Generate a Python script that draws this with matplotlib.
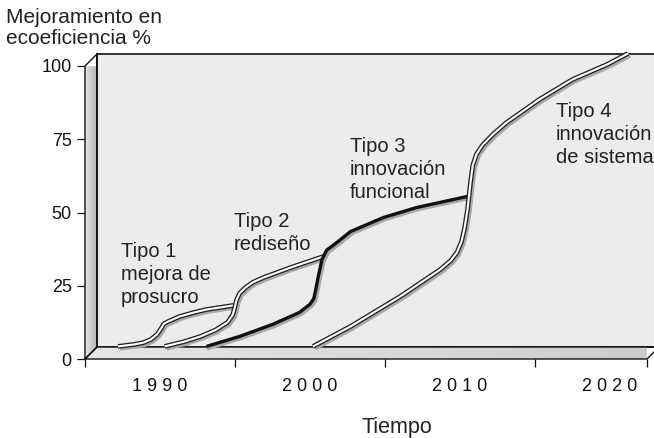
import numpy as np
import matplotlib.pyplot as plt
from matplotlib.patches import Polygon, Rectangle
from matplotlib.transforms import ScaledTranslation

plt.rcParams['font.family'] = ['Liberation Sans', 'DejaVu Sans']

# data (years, % improvement) on the back wall
t1_x = [1986.4, 1987.5, 1988.1, 1988.6, 1989.0, 1989.27, 1989.45, 1989.7, 1990.5,
        1991.4, 1992.3, 1994.1]
t1_y = [0.2, 0.9, 1.5, 2.6, 4.3, 6.3, 7.9, 8.6, 10.4, 11.7, 12.8, 14.2]

t2_x = [1989.5, 1990.8, 1991.9, 1992.9, 1993.7, 1994.05, 1994.2, 1994.3, 1994.5,
        1994.9, 1995.4, 1996.1, 1997.9, 2000.1]
t2_y = [0.2, 1.8, 3.6, 5.8, 8.4, 11.0, 13.8, 16.0, 18.3, 20.3, 22.1, 23.7, 27.1, 30.9]

t3_x = [1992.3, 1994.5, 1996.7, 1998.5, 1999.2, 1999.45, 1999.6, 1999.75, 2000.0,
        2000.3, 2001.0, 2001.9, 2004.1, 2006.3, 2009.7]
t3_y = [0.2, 3.6, 7.7, 11.8, 14.6, 16.5, 20.0, 24.0, 29.9, 33.0, 35.7, 39.4, 44.2,
        47.6, 51.4]

t4_x = [1999.4, 2001.9, 2005.2, 2007.9, 2008.6, 2009.0, 2009.3, 2009.5, 2009.7,
        2009.9, 2010.05, 2010.3, 2010.7, 2011.4, 2012.3, 2014.5, 2016.7, 2019.0,
        2020.4]
t4_y = [0.2, 7.0, 17.2, 26.5, 29.6, 32.3, 36.0, 40.5, 46.9, 56.1, 62.0, 65.8, 68.9,
        72.6, 76.6, 84.5, 91.3, 96.4, 100.2]

y_ticks = [0, 25, 50, 75, 100]
decade_labels = ['1 9 9 0', '2 0 0 0', '2 0 1 0', '2 0 2 0']
decade_pos = [1990, 2000, 2010, 2020]

W, H = 654, 438
fig = plt.figure(figsize=(W / 100, H / 100), dpi=100)
ax = fig.add_axes([85 / W, 79 / H, 562 / W, 293 / H])
x0, x1 = 1985, 1985 + 562 / 15
ax.set_xlim(x0, x1)
ax.set_ylim(0, 100)
ax.patch.set_visible(False)
for s in ax.spines.values():
    s.set_visible(False)

# depth offset of the box (12 px right, 12 px up)
dx = 12 * (x1 - x0) / 562
dy = 12 * 100 / 293
back = ax.transData + ScaledTranslation(0.12, 0.12, fig.dpi_scale_trans)


def gradient(poly, c0, c1, z=1):
    g = np.linspace(0, 1, 64)[None, :]
    a = np.array(plt.matplotlib.colors.to_rgb(c0))
    b = np.array(plt.matplotlib.colors.to_rgb(c1))
    img = a + (b - a) * g[..., None]
    xs, ys = zip(*poly.get_xy())
    im = ax.imshow(img, extent=[min(xs), max(xs), min(ys), max(ys)],
                   aspect='auto', origin='lower', zorder=z, clip_on=True)
    im.set_clip_path(poly)


# back wall
wall = Rectangle((x0, 0), 45, 100, transform=back, facecolor='#ececec',
                 edgecolor='#111111', lw=1.2, zorder=0, clip_on=False)
ax.add_patch(wall)
right = Polygon([(x1 - 0.5 + dx, dy), (x1 + 2 * dx, dy), (x1 + 2 * dx, 100 + dy),
                 (x1 - 0.5 + dx, 100 + dy)], closed=True, facecolor='none',
                edgecolor='none', clip_on=False)
ax.add_patch(right)
gradient(right, '#ececec', '#c4c4c4', z=0.5)

# left wall
lw_poly = Polygon([(x0, 0), (x0, 100), (x0 + dx, 100 + dy), (x0 + dx, dy)],
                  closed=True, facecolor='none', edgecolor='#111111', lw=1.0,
                  zorder=3, clip_on=False)
ax.add_patch(lw_poly)
gradient(lw_poly, '#e2e2e2', '#b8b8b8', z=2)
ax.plot([x0 + dx, x0 + dx], [dy, 100 + dy], color='#111111', lw=1.2, zorder=3,
        clip_on=False)

# floor
fl_poly = Polygon([(x0, 0), (x1, 0), (x1 + dx, dy), (x0 + dx, dy)], closed=True,
                  facecolor='none', edgecolor='#111111', lw=1.0, zorder=3,
                  clip_on=False)
ax.add_patch(fl_poly)
gradient(fl_poly, '#e6e6e6', '#cdcdcd', z=2)

# curves on the back wall
shadow = back + ScaledTranslation(0.02, -0.02, fig.dpi_scale_trans)


def double_line(x, y, z):
    ax.plot(x, y, transform=shadow, color='#a8a8a8', lw=3.2, zorder=z,
            solid_capstyle='butt', solid_joinstyle='round', clip_on=False)
    ax.plot(x, y, transform=back, color='#222222', lw=3.4, zorder=z + 0.1,
            solid_capstyle='butt', solid_joinstyle='round', clip_on=False)
    ax.plot(x, y, transform=back, color='white', lw=1.5, zorder=z + 0.2,
            solid_capstyle='butt', solid_joinstyle='round', clip_on=False)


double_line(t1_x, t1_y, 4)
double_line(t2_x, t2_y, 5)
ax.plot(t3_x, t3_y, transform=shadow, color='#a8a8a8', lw=2.4, zorder=6,
        solid_joinstyle='round', clip_on=False)
ax.plot(t3_x, t3_y, transform=back, color='#111111', lw=2.4, zorder=6.1,
        solid_capstyle='butt', solid_joinstyle='round', clip_on=False)
double_line(t4_x, t4_y, 7)

# ticks
ax.set_yticks(y_ticks)
ax.set_yticklabels([str(v) for v in y_ticks])
ax.tick_params(axis='y', direction='out', length=6, width=0.9, pad=3.5,
               labelsize=13, colors='#111111')
ax.set_xticks([1985, 1995, 2005, 2015, x1])
ax.set_xticklabels([])
ax.set_xticks(decade_pos, minor=True)
ax.set_xticklabels(decade_labels, minor=True)
ax.tick_params(axis='x', which='major', direction='out', length=5.5, width=0.9,
               colors='#111111')
ax.tick_params(axis='x', which='minor', length=0, pad=14, labelsize=13,
               labelcolor='#111111')


# texts
def ftext(px, py, s, size=14.5, ls=1.26):
    fig.text(px / W, 1 - py / H, s, fontsize=size, color='#222222', va='top',
             ha='left', linespacing=ls)


ftext(6, 8, 'Mejoramiento en\necoeficiencia %', size=15, ls=1.1)
ftext(121, 242, 'Tipo 1\nmejora de\nprosucro')
ftext(234, 212, 'Tipo 2\nrediseño')
ftext(350, 137, 'Tipo 3\ninnovación\nfuncional')
ftext(556, 102, 'Tipo 4\ninnovación\nde sistema')
fig.text(397 / W, 1 - 427 / H, 'Tiempo', fontsize=15.5, color='#222222',
         ha='center', va='center')

fig.savefig('out.png', dpi=100)
